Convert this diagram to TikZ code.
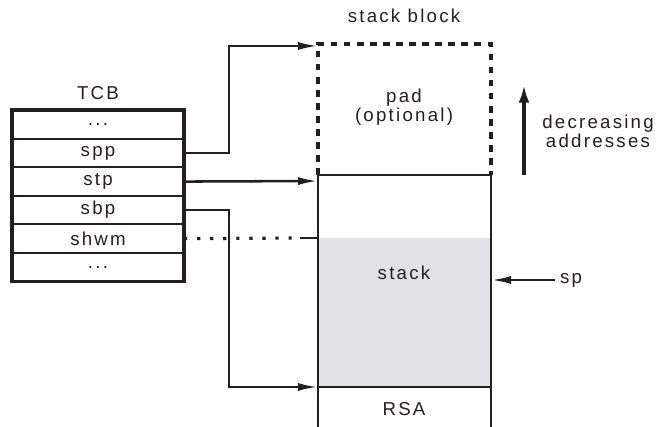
\documentclass[tikz,border=0pt]{standalone}
\usepackage{fontspec}
\setmainfont{Liberation Sans}[LetterSpace=12]
\usetikzlibrary{arrows.meta,positioning}

\definecolor{stackgray}{HTML}{E1E1E4}
\definecolor{ink}{HTML}{231F20}

\begin{document}
\begin{tikzpicture}[
    x=0.75pt, y=-0.75pt,
    every node/.style={font=\fontsize{14}{14.5}\selectfont, text=ink},
    field/.style={
        rectangle, draw=ink, line width=1.7pt, outer sep=0pt,
        minimum width=129pt, minimum height=21.4pt, inner sep=0pt
    },
    ptr/.style={-{Latex[length=15pt,width=6pt]}, line width=1.9pt, draw=ink},
    wall/.style={line width=1.9pt, draw=ink},
    padline/.style={line width=2.4pt, draw=ink, dash pattern=on 5pt off 4.8pt},
    hwm/.style={line width=2.4pt, draw=ink, dash pattern=on 2.4pt off 7.4pt}
]
\useasboundingbox (0,0) rectangle (657,427);

% TCB fields
\node (tcblabel) at (98,93) {TCB};
\node[field] (top) at (98,124.5) {...};
\node[field, below=0pt of top] (spp) {spp};
\node[field, below=0pt of spp] (stp) {stp};
\node[field, below=0pt of stp] (sbp) {sbp};
\node[field, below=0pt of sbp] (shwm) {shwm};
\node[field, below=0pt of shwm] (rest) {...};
\draw[line width=2.6pt, draw=ink] (top.north west) rectangle (rest.south east);

% stack block
\node (blocklabel) at (404,16) {stack block};
\fill[stackgray] (318,238) rectangle (491,387);
\coordinate (padtop) at (318,46);
\coordinate (stacktop) at (318,181);
\coordinate (hwmmark) at (318,238);
\coordinate (stackbase) at (318,387);
\coordinate (spmark) at (491,280);
\draw[padline] (318,175) -- (318,44) -- (491,44) -- (491,175);
\draw[line width=1.4pt, draw=ink] (318,175) -- (491,175);
\draw[wall] (318,175) -- (318,427);
\draw[wall] (491,175) -- (491,427);
\draw[wall] (318,387) -- (491,387);
\node[align=center] (pad) at (404,107) {pad\\(optional)};
\node (stack) at (404,273) {stack};
\node (rsa) at (404,409) {RSA};

% pointers from the TCB
\draw[ptr] (spp.east) -- ++(45,0) |- (padtop);
\draw[ptr] (stp.east) -- (stacktop);
\draw[ptr] (sbp.east) -- ++(45,0) |- (stackbase);
\draw[hwm] (shwm.east) -- (300,238);
\draw[line width=1pt, draw=ink] (300,238) -- (hwmmark);

% stack pointer
\node (sp) at (571,280) {sp};
\draw[ptr] (sp.west) -- (spmark);

% growth direction
\draw[-{Latex[length=14pt,width=8pt]}, line width=3pt, draw=ink] (524,175) -- (524,84);
\node[align=center, font=\fontsize{14}{13}\selectfont] (dir) at (598,131) {decreasing\\addresses};

\end{tikzpicture}
\end{document}
